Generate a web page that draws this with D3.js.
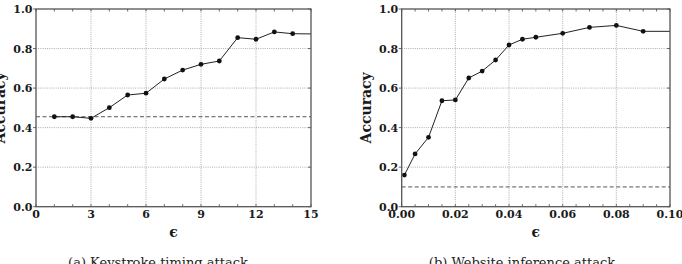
<!DOCTYPE html>
<html>
<head>
<meta charset="utf-8">
<script src="https://cdn.jsdelivr.net/npm/d3@7"></script>
<style>
  body { margin: 0; background: #fff; }
  svg { display: block; }
  .tick-label { font-family: "DejaVu Serif", serif; font-weight: bold; font-size: 11px; fill: #1a1a1a; }
  .axis-title { font-family: "DejaVu Serif", serif; font-weight: bold; font-size: 14px; fill: #1a1a1a; }
  .caption { font-family: "DejaVu Serif", serif; font-size: 13px; fill: #222; }
</style>
</head>
<body>
<svg id="chart" width="682" height="264"></svg>
<script>
// (a) keystroke timing attack
const keyEps = [1, 2, 3, 4, 5, 6, 7, 8, 9, 10, 11, 12, 13, 14, 15];
const keyAcc = [0.455, 0.455, 0.447, 0.501, 0.565, 0.574, 0.646, 0.691, 0.720, 0.737, 0.855, 0.847, 0.884, 0.875, 0.874];
const keyBaseline = 0.455;
const keyTicks = [0, 3, 6, 9, 12, 15];

// (b) website inference attack
const webEps = [0.001, 0.005, 0.01, 0.015, 0.02, 0.025, 0.03, 0.035, 0.04, 0.045, 0.05, 0.06, 0.07, 0.08, 0.09, 0.10];
const webAcc = [0.160, 0.267, 0.351, 0.536, 0.540, 0.651, 0.686, 0.742, 0.818, 0.847, 0.857, 0.877, 0.907, 0.917, 0.887, 0.887];
const webBaseline = 0.10;
const webTicks = [0, 0.02, 0.04, 0.06, 0.08, 0.10];

const yTicks = [0, 0.2, 0.4, 0.6, 0.8, 1.0];
const captions = ["(a) Keystroke timing attack", "(b) Website inference attack"];

const svg = d3.select("#chart");

function drawPanel(opt) {
  const x = d3.scaleLinear().domain(opt.xDomain).range([opt.left, opt.right]);
  const y = d3.scaleLinear().domain([0, 1]).range([206.7, 9]);
  const g = svg.append("g");

  // grid
  g.selectAll(".gx").data(opt.xTicks.slice(1, -1)).enter().append("line")
    .attr("x1", d => x(d)).attr("x2", d => x(d))
    .attr("y1", y(0)).attr("y2", y(1))
    .attr("stroke", "#999").attr("stroke-width", 0.8).attr("stroke-dasharray", "1,1.2");
  g.selectAll(".gy").data(yTicks.slice(1, -1)).enter().append("line")
    .attr("x1", x.range()[0]).attr("x2", x.range()[1])
    .attr("y1", d => y(d)).attr("y2", d => y(d))
    .attr("stroke", "#999").attr("stroke-width", 0.8).attr("stroke-dasharray", "1,1.2");

  // minor ticks top / bottom
  const minor = d3.range(opt.xDomain[0], opt.xDomain[1] + opt.minorStep / 2, opt.minorStep);
  g.selectAll(".mt").data(minor).enter().append("line")
    .attr("x1", d => x(d)).attr("x2", d => x(d))
    .attr("y1", y(1)).attr("y2", y(1) + 2.5)
    .attr("stroke", "#444").attr("stroke-width", 0.8);
  g.selectAll(".mb").data(minor).enter().append("line")
    .attr("x1", d => x(d)).attr("x2", d => x(d))
    .attr("y1", y(0)).attr("y2", y(0) - 2.5)
    .attr("stroke", "#444").attr("stroke-width", 0.8);
  // y ticks left (outward) / right (inward)
  g.selectAll(".yl").data(yTicks).enter().append("line")
    .attr("x1", x.range()[0] - 3).attr("x2", x.range()[0])
    .attr("y1", d => y(d)).attr("y2", d => y(d))
    .attr("stroke", "#444").attr("stroke-width", 0.8);
  g.selectAll(".yr").data(yTicks).enter().append("line")
    .attr("x1", x.range()[1] - 3).attr("x2", x.range()[1])
    .attr("y1", d => y(d)).attr("y2", d => y(d))
    .attr("stroke", "#444").attr("stroke-width", 0.8);

  // baseline (dashed)
  g.append("line")
    .attr("x1", x.range()[0]).attr("x2", x.range()[1])
    .attr("y1", y(opt.baseline)).attr("y2", y(opt.baseline))
    .attr("stroke", "#555").attr("stroke-width", 1).attr("stroke-dasharray", "4,2.5");

  // series
  const pts = opt.xs.map((d, i) => [d, opt.ys[i]]);
  g.append("path")
    .datum(pts)
    .attr("fill", "none").attr("stroke", "#222").attr("stroke-width", 1)
    .attr("d", d3.line().x(d => x(d[0])).y(d => y(d[1])));
  g.selectAll(".dot").data(pts.slice(0, -1)).enter().append("circle")
    .attr("cx", d => x(d[0])).attr("cy", d => y(d[1])).attr("r", 2.4)
    .attr("fill", "#111");

  // frame
  g.append("rect")
    .attr("x", x.range()[0]).attr("y", y(1))
    .attr("width", x.range()[1] - x.range()[0]).attr("height", y(0) - y(1))
    .attr("fill", "none").attr("stroke", "#555").attr("stroke-width", 1.3);

  // tick labels
  g.selectAll(".xl").data(opt.xTicks).enter().append("text")
    .attr("class", "tick-label")
    .attr("x", d => x(d)).attr("y", 218)
    .attr("text-anchor", "middle")
    .text(opt.xFormat);
  g.selectAll(".ylab").data(yTicks).enter().append("text")
    .attr("class", "tick-label")
    .attr("x", x.range()[0] - 3.5).attr("y", d => y(d) + 4)
    .attr("text-anchor", "end")
    .text(d3.format(".1f"));

  // axis titles
  g.append("text").attr("class", "axis-title")
    .attr("x", (x.range()[0] + x.range()[1]) / 2).attr("y", 237)
    .attr("text-anchor", "middle").text("ϵ");
  g.append("text").attr("class", "axis-title")
    .attr("transform", "translate(" + (x.range()[0] - 31) + "," + y(0.5) + ") rotate(-90)")
    .attr("text-anchor", "middle").text("Accuracy");

  // caption
  g.append("text").attr("class", "caption")
    .attr("x", opt.captionX).attr("y", 267)
    .attr("text-anchor", "middle").text(opt.caption);
}

drawPanel({
  left: 36, right: 311, xDomain: [0, 15], xTicks: keyTicks, minorStep: 1,
  xs: keyEps, ys: keyAcc, baseline: keyBaseline,
  xFormat: d3.format("d"), caption: captions[0], captionX: 158
});
drawPanel({
  left: 401.7, right: 670, xDomain: [0, 0.10], xTicks: webTicks, minorStep: 0.005,
  xs: webEps, ys: webAcc, baseline: webBaseline,
  xFormat: d3.format(".2f"), caption: captions[1], captionX: 522
});
</script>
</body>
</html>
